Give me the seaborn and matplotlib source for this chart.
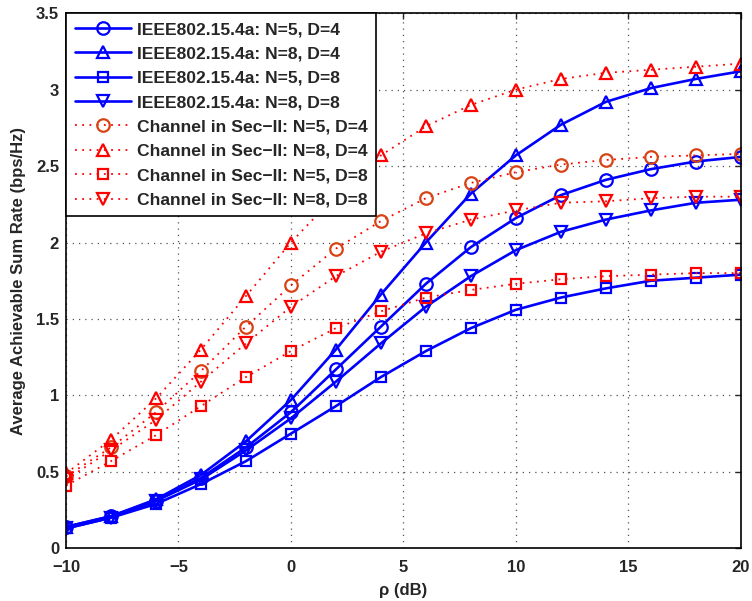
import numpy as np
import pandas as pd
import matplotlib
matplotlib.use("Agg")
import matplotlib.pyplot as plt
import seaborn as sns

sns.set_style("white")
plt.rcParams["font.family"] = ["Liberation Sans", "DejaVu Sans"]
plt.rcParams["font.weight"] = "bold"

rho_db = [-10, -8, -6, -4, -2, 0, 2, 4, 6, 8, 10, 12, 14, 16, 18, 20]

# IEEE802.15.4a channel
ieee_n5_d4 = [0.14, 0.21, 0.31, 0.46, 0.66, 0.89, 1.17, 1.45, 1.73, 1.97, 2.16, 2.31, 2.41, 2.48, 2.53, 2.56]
ieee_n8_d4 = [0.14, 0.21, 0.32, 0.48, 0.70, 0.97, 1.30, 1.66, 2.00, 2.32, 2.57, 2.77, 2.92, 3.01, 3.07, 3.12]
ieee_n5_d8 = [0.13, 0.20, 0.29, 0.42, 0.57, 0.75, 0.93, 1.12, 1.29, 1.44, 1.56, 1.64, 1.70, 1.75, 1.77, 1.79]
ieee_n8_d8 = [0.13, 0.20, 0.31, 0.45, 0.64, 0.85, 1.09, 1.34, 1.58, 1.78, 1.95, 2.07, 2.15, 2.21, 2.26, 2.28]

# Channel model of Sec-II
sec_n5_d4 = [0.47, 0.66, 0.89, 1.16, 1.45, 1.72, 1.96, 2.14, 2.29, 2.39, 2.46, 2.51, 2.54, 2.56, 2.57, 2.58]
sec_n8_d4 = [0.49, 0.71, 0.98, 1.30, 1.65, 2.00, 2.31, 2.57, 2.76, 2.90, 3.00, 3.07, 3.11, 3.13, 3.15, 3.17]
sec_n5_d8 = [0.41, 0.57, 0.74, 0.93, 1.12, 1.29, 1.44, 1.55, 1.64, 1.69, 1.73, 1.76, 1.78, 1.79, 1.80, 1.80]
sec_n8_d8 = [0.45, 0.64, 0.84, 1.09, 1.34, 1.58, 1.78, 1.94, 2.06, 2.15, 2.21, 2.26, 2.27, 2.29, 2.30, 2.30]

labels = [
    "IEEE802.15.4a: N=5, D=4",
    "IEEE802.15.4a: N=8, D=4",
    "IEEE802.15.4a: N=5, D=8",
    "IEEE802.15.4a: N=8, D=8",
    "Channel in Sec\u2212II: N=5, D=4",
    "Channel in Sec\u2212II: N=8, D=4",
    "Channel in Sec\u2212II: N=5, D=8",
    "Channel in Sec\u2212II: N=8, D=8",
]
series = [ieee_n5_d4, ieee_n8_d4, ieee_n5_d8, ieee_n8_d8,
          sec_n5_d4, sec_n8_d4, sec_n5_d8, sec_n8_d8]
markers = ["o", "^", "s", "v", "o", "^", "s", "v"]
colors = ["#0000FF"] * 4 + ["#D84315", "#FF0000", "#FF0000", "#FF0000"]

fig = plt.figure(figsize=(7.52, 6.01), dpi=100)
ax = fig.add_axes([0.0878, 0.0877, 0.8972, 0.8903])

for i, (lab, vals, mk, col) in enumerate(zip(labels, series, markers, colors)):
    df = pd.DataFrame({"rho": rho_db, "rate": vals})
    solid = i < 4
    sns.lineplot(
        data=df, x="rho", y="rate", ax=ax, label=lab,
        color=col if solid else "#FF0000",
        linestyle="-" if solid else (0, (1, 3)),
        linewidth=1.9 if solid else 1.3,
        marker=mk, markersize=9 if mk != "s" else 7.5,
        markerfacecolor="none", markeredgecolor=col, markeredgewidth=1.6,
    )

ax.set_xlim(-10, 20)
ax.set_ylim(0, 3.5)
ax.set_xticks([-10, -5, 0, 5, 10, 15, 20])
ax.set_yticks([0, 0.5, 1, 1.5, 2, 2.5, 3, 3.5])
ax.set_xticklabels(["\u221210", "\u22125", "0", "5", "10", "15", "20"])
ax.set_yticklabels(["0", "0.5", "1", "1.5", "2", "2.5", "3", "3.5"])
ax.tick_params(direction="in", top=True, right=True, length=4, width=1,
               labelsize=12)
ax.tick_params(axis="x", pad=8.5)
ax.tick_params(axis="y", pad=5)
for t in ax.get_xticklabels() + ax.get_yticklabels():
    t.set_fontweight("bold")
ax.grid(True, linestyle=(0, (1, 4)), color="#555555", linewidth=0.9)
for sp in ax.spines.values():
    sp.set_color("black")
    sp.set_linewidth(1.2)

ax.set_xlabel("\u03c1 (dB)", fontsize=12, fontweight="bold", labelpad=6)
ax.set_ylabel("Average Achievable Sum Rate (bps/Hz)", fontsize=12,
              fontweight="bold", labelpad=7)

leg = ax.legend(loc="upper left", fontsize=12.6, handlelength=3.2,
                handletextpad=0.35, labelspacing=0.52, borderpad=0.5,
                borderaxespad=0.0, fancybox=False, framealpha=1,
                edgecolor="black")
leg.get_frame().set_linewidth(1.2)
for t in leg.get_texts():
    t.set_fontweight("bold")

fig.savefig("out.png", dpi=100)
